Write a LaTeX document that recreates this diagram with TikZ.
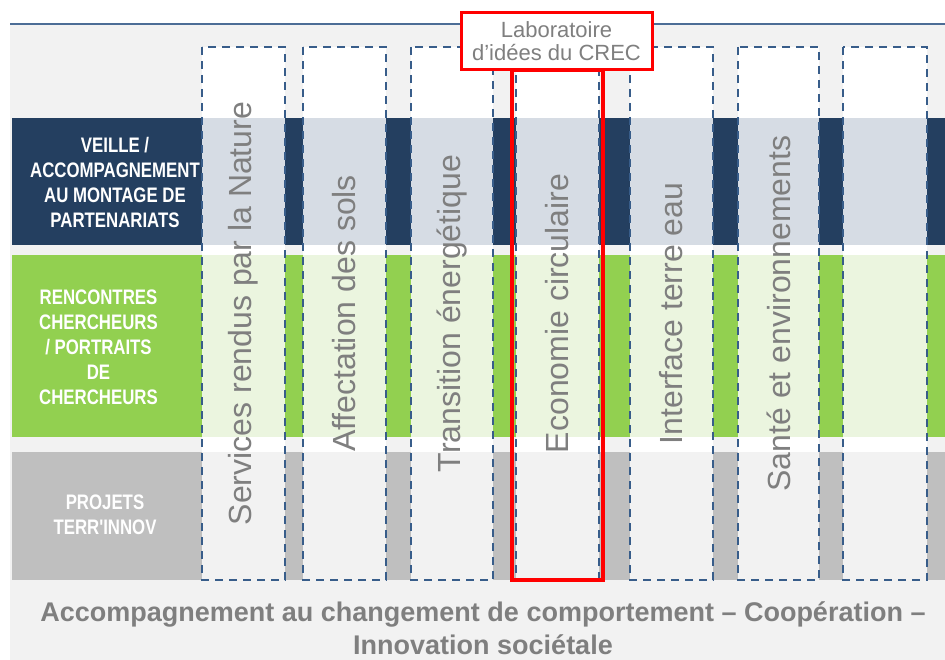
\documentclass[tikz,border=0pt]{standalone}
\usepackage{fontspec}
\setmainfont{Liberation Sans}
\newfontfamily\lblfont{Liberation Sans}[FakeStretch=0.8]
\definecolor{bgc}{HTML}{F2F2F2}
\definecolor{navy}{HTML}{243F60}
\definecolor{navytint}{HTML}{D6DCE4}
\definecolor{grn}{HTML}{92D050}
\definecolor{grntint}{HTML}{EBF5DF}
\definecolor{gry}{HTML}{BFBFBF}
\definecolor{grytint}{HTML}{F2F2F2}
\definecolor{dashblue}{HTML}{385D8A}
\definecolor{txtgray}{HTML}{7F7F7F}
\definecolor{crecred}{HTML}{FF0000}
\begin{document}
\begin{tikzpicture}[x=1pt,y=-1pt,
  band/.style={rectangle, inner sep=0pt, outer sep=0pt, draw=none, anchor=north west},
  colbox/.style={rectangle, inner sep=0pt, outer sep=0pt, fill=white, draw=none, anchor=north west, minimum height=533pt},
  colborder/.style={draw=dashblue, line width=2.6pt, dash pattern=on 8pt off 6pt},
  coltext/.style={rotate=90, inner sep=0pt, text=txtgray, font=\fontsize{32}{36}\selectfont},
  rowlabel/.style={align=center, inner sep=0pt, text=white, font=\lblfont\bfseries\fontsize{21}{25}\selectfont},
  crecbox/.style={rectangle, inner sep=0pt, outer sep=0pt, draw=crecred, line width=4.5pt, anchor=north west},
  creclabel/.style={rectangle, inner sep=0pt, outer sep=0pt, draw=crecred, fill=white, line width=3pt, anchor=north west, align=center, text=txtgray, font=\fontsize{22}{23}\selectfont},
  bottomtext/.style={align=center, inner sep=0pt, text=txtgray, font=\bfseries\fontsize{27}{33}\selectfont}
]
\useasboundingbox (0,0) rectangle (945,660);
% background
\fill[bgc] (10,24) rectangle (945,660);
\draw[dashblue!90!white, line width=2pt] (10,24) -- (945,24);
% row bands
\node[band, fill=navy, minimum width=933pt, minimum height=127pt] (r1) at (12,118) {};
\node[band, fill=grn, minimum width=933pt, minimum height=182pt] (r2) at (12,255) {};
\node[band, fill=gry, minimum width=933pt, minimum height=128pt] (r3) at (12,452) {};
% row labels
\node[rowlabel] (l1) at (115,182) {VEILLE /\\ACCOMPAGNEMENT\\AU MONTAGE DE\\PARTENARIATS};
\node[rowlabel] (l2) at (98.5,347) {RENCONTRES\\CHERCHEURS\\/ PORTRAITS\\DE\\CHERCHEURS};
\node[rowlabel] (l3) at (105,515) {PROJETS\\TERR'INNOV};
% columns
\foreach \i/\x/\w in {1/202/83, 2/303/83, 3/411/82, 4/516/83, 5/630/83, 6/738/81, 7/843/84} {
  \node[colbox, minimum width=\w pt] (c\i) at (\x,47) {};
  \fill[navytint] (\x,118) rectangle (\x+\w,245);
  \fill[grntint] (\x,255) rectangle (\x+\w,437);
  \fill[grytint] (\x,452) rectangle (\x+\w,580);
  \draw[colborder] (c\i.north west) rectangle (c\i.south east);
}
% column titles
\node[coltext] (t1) at (c1.center) {Services rendus par la Nature};
\node[coltext] (t2) at (c2.center) {Affectation des sols};
\node[coltext] (t3) at (c3.center) {Transition énergétique};
\node[coltext] (t4) at (c4.center) {Economie circulaire};
\node[coltext] (t5) at (c5.center) {Interface terre eau};
\node[coltext] (t6) at (c6.center) {Santé et environnements};
% CREC frame
\node[crecbox, minimum width=91pt, minimum height=510pt] (crec) at (512,70) {};
\node[creclabel, minimum width=191pt, minimum height=57pt] (lab) at (461,13) {Laboratoire\\d{\char"27}idées du CREC};
% bottom text
\node[bottomtext] (bt) at (483,628) {Accompagnement au changement de comportement – Coopération –\\Innovation sociétale};
\end{tikzpicture}
\end{document}
